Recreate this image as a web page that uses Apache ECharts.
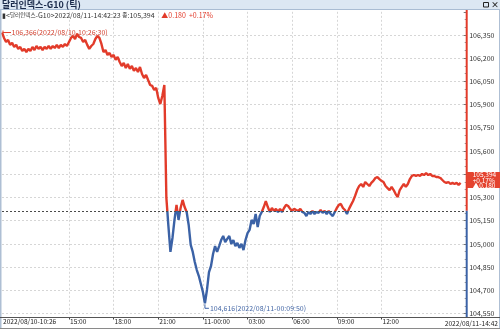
<!DOCTYPE html>
<html><head><meta charset="utf-8">
<script src="https://cdn.jsdelivr.net/npm/echarts@6/dist/echarts.min.js"></script>
<style>html,body{margin:0;padding:0;background:#fff;overflow:hidden}#c{width:500px;height:329px}</style>
</head><body><div id="c"></div>
<script>
// ---- data (tick chart, ~2px per sample) ----
const segLabels = ['2022/08/10-10:26','15:00','18:00','21:00','11-00:00','03:00','06:00','09:00','12:00'];
const endLabel = '2022/08/11-14:42';
const seg1 = [106.366,106.331,106.305,106.318,106.286,106.299,106.273,106.286,106.260,106.273,106.247,106.260,106.240,106.260,106.247,106.273,106.253,106.279,106.260,106.273,106.253,106.273,106.260,106.279,106.260,106.279,106.266,106.286,106.266,106.286,106.273,106.292,106.279];
const seg2 = [106.305,106.331,106.344,106.324,106.357,106.337,106.331,106.305,106.318,106.286,106.260,106.279,106.292,106.324,106.344,106.331,106.292,106.240,106.253,106.221,106.234,106.208];
const seg3 = [106.221,106.189,106.208,106.176,106.150,106.169,106.137,106.163,106.131,106.150,106.118,106.137,106.111,106.143,106.098,106.072,106.092,106.059,106.027,106.021,105.995,106.008];
const seg4 = [105.943,105.904,105.956,106.027,105.297,105.116,104.948,105.038,105.155,105.252,105.155,105.232,105.284,105.238,105.206,105.122,104.993,104.948,104.883,104.831,104.792,104.741];
const seg5 = [104.689,104.616,104.702,104.818,104.857,104.935,104.986,104.948,104.986,105.025,105.051,105.012,105.032,105.051,105.000,105.025,104.986,105.006,104.974,105.000,104.960,105.025];
const seg6 = [105.070,105.090,105.155,105.129,105.193,105.109,105.180,105.206,105.238,105.277,105.238,105.206,105.232,105.213,105.226,105.206,105.226,105.206,105.232,105.252,105.245,105.226];
const seg7 = [105.213,105.226,105.219,105.213,105.226,105.206,105.200,105.180,105.206,105.193,105.213,105.193,105.206,105.200,105.219,105.200,105.213,105.193,105.213,105.193,105.180,105.206];
const seg8 = [105.232,105.252,105.258,105.232,105.219,105.193,105.226,105.252,105.277,105.310,105.348,105.374,105.387,105.368,105.400,105.387,105.374,105.394,105.407,105.426,105.432,105.419];
const seg9 = [105.407,105.400,105.374,105.361,105.348,105.368,105.348,105.322,105.303,105.348,105.368,105.387,105.368,105.387,105.419,105.439,105.445,105.439,105.445,105.439,105.452,105.445,105.458,105.445,105.452,105.439,105.439,105.432,105.432,105.426,105.413,105.400,105.394,105.400,105.387,105.394,105.387,105.394,105.381,105.394];
const prevClose = 105.214;
const lastPrice = 105.394;
const changeText = '▲0.180';
const changePctText = '+0.17%';
const lastTime = '2022/08/11-14:42:23';
const maxTime = '2022/08/10-10:26:30';
const minTime = '2022/08/11-00:09:50';
const yMin = 104.55, yMax = 106.50, yStep = 0.15;
const padCount = 3;

// ---- build ----
const segments = [seg1,seg2,seg3,seg4,seg5,seg6,seg7,seg8,seg9];
const values = []; const labelAt = {};
segments.forEach((s,k)=>{ labelAt[values.length] = segLabels[k]; s.forEach(v=>values.push(v)); });
const cats = [];
for (let i=0;i<values.length+padCount;i++) cats.push(String(i));
const fmt = v => v.toFixed(3).replace('.', ',');
const maxV = Math.max(...values), minV = Math.min(...values);
const maxI = values.indexOf(maxV), minI = values.indexOf(minV);
const lastI = values.length-1;

const RED = '#e23b2a', BLUE = '#3b62a6';
const NARROW = "'Liberation Sans Narrow','Arial Narrow','Noto Sans CJK KR',sans-serif";
const KR = "'Noto Sans CJK KR','Liberation Sans Narrow',sans-serif";

const chart = echarts.init(document.getElementById('c'), null, {renderer:'canvas'});
const showIdx = (i) => labelAt[i] !== undefined;
chart.setOption({
  animation:false,
  backgroundColor:'#fff',
  textStyle:{fontFamily:NARROW},
  grid:{left:2, right:33.3, top:11.8, bottom:15.5, outerBoundsMode:'none'},
  xAxis:{
    type:'category', data:cats, boundaryGap:false, offset:4,
    axisLine:{show:false},
    axisTick:{show:true, length:2, interval:(i)=>showIdx(i)&&i>0, lineStyle:{color:'#444'}},
    axisLabel:{show:true, interval:(i)=>showIdx(i), formatter:(v,i)=>labelAt[i]||'', align:'left', margin:1, padding:[0,0,0,1], fontSize:6.6, color:'#222', fontFamily:NARROW},
    splitLine:{show:true, interval:(i)=>showIdx(i)&&i>0, lineStyle:{color:'#d6d6d6', type:[2,2], width:1}}
  },
  yAxis:{
    type:'value', position:'right', min:yMin, max:yMax, interval:yStep,
    axisLine:{show:false},
    axisTick:{show:true, inside:true, length:3, lineStyle:{color:'#777'}},
    minorTick:{show:true, splitNumber:3, length:2, lineStyle:{color:'#999'}},
    axisLabel:{formatter:fmt, fontSize:7, color:'#333', margin:2.5, showMaxLabel:false, fontFamily:NARROW},
    splitLine:{show:true, showMaxLine:false, showMinLine:true, lineStyle:{color:'#d6d6d6', type:[2,2], width:1}}
  },
  series:[{
    type:'line', data:values, symbol:'none', showSymbol:false,
    lineStyle:{width:2.4, color:RED},
    markLine:{silent:true, symbol:'none', label:{show:false},
      lineStyle:{color:'#4a4a4a', type:[2,2], width:1},
      data:[{yAxis:prevClose}]}
  }]
});

const P = (i,v) => chart.convertToPixel({seriesIndex:0}, [i, v]);
const refY = P(0, prevClose)[1];
const axX = P(cats.length-1, yMin)[0];
const pMax = P(maxI, maxV), pMin = P(minI, minV), pLast = P(lastI, lastPrice);
const H = 329, off = refY / H;

chart.setOption({
  series:[{lineStyle:{color:{type:'linear', x:0, y:0, x2:0, y2:H, global:true,
    colorStops:[{offset:0,color:RED},{offset:off,color:RED},{offset:off,color:BLUE},{offset:1,color:BLUE}]}}}],
  graphic:[
  {type:'rect', shape:{x:0,y:0,width:500,height:9.5}, style:{fill:'#dce7f3'}, z:50},
  {type:'line', shape:{x1:0,y1:9.5,x2:500,y2:9.5}, style:{stroke:'#a9bcd3', lineWidth:1}, z:50},
  {type:'text', x:2, y:5, style:{text:'달러인덱스-G10 (틱)', font:"bold 9px "+KR, fill:'#1b2b4b', verticalAlign:'middle'}, z:51},
  {type:'rect', shape:{x:483.5,y:2.5,width:5,height:4.5}, style:{fill:'none', stroke:'#222', lineWidth:1}, z:51},
  {type:'text', x:491, y:5, style:{text:'×', font:"bold 8px "+NARROW, fill:'#222', verticalAlign:'middle'}, z:51},
  {type:'text', x:2, y:15, z:51, style:{
    text:'{a|▮<}{k|달러인덱스}{a|-G10>' + lastTime + ' }{k|종}{a|:' + fmt(lastPrice) + '}  {r|' + changeText + '  ' + changePctText + '}',
    verticalAlign:'middle',
    rich:{a:{font:"7px "+NARROW, fill:'#333'}, k:{font:"5.6px "+KR, fill:'#333'}, r:{font:"7px "+NARROW, fill:RED}}
  }},
  {type:'line', shape:{x1:0.75,y1:9,x2:0.75,y2:329}, style:{stroke:'#aebfd4', lineWidth:1.5}, z:50},
  {type:'line', shape:{x1:499.5,y1:9,x2:499.5,y2:329}, style:{stroke:'#aebfd4', lineWidth:1}, z:50},
  {type:'line', shape:{x1:0,y1:317.5,x2:500,y2:317.5}, style:{stroke:'#555', lineWidth:1}, z:50},
  {type:'line', shape:{x1:0,y1:328.5,x2:500,y2:328.5}, style:{stroke:'#8a8a8a', lineWidth:1}, z:50},
  {type:'line', shape:{x1:axX,y1:10,x2:axX,y2:refY}, style:{stroke:RED, lineWidth:2}, z:50},
  {type:'line', shape:{x1:axX,y1:refY,x2:axX,y2:317}, style:{stroke:BLUE, lineWidth:2}, z:50},
  {type:'polyline', shape:{points:[[pMax[0]+1,pMax[1]-2],[pMax[0]+1,pMax[1]],[pMax[0]+9,pMax[1]]]}, style:{stroke:RED, lineWidth:1, fill:'none'}, z:52},
  {type:'text', x:pMax[0]+9.5, y:pMax[1], z:52, style:{text:fmt(maxV)+'('+maxTime+')', font:"7px "+NARROW, fill:'#d2402f', verticalAlign:'middle'}},
  {type:'polyline', shape:{points:[[pMin[0],pMin[1]+1],[pMin[0],pMin[1]+5],[pMin[0]+4,pMin[1]+5]]}, style:{stroke:BLUE, lineWidth:1, fill:'none'}, z:52},
  {type:'text', x:pMin[0]+5, y:pMin[1]+5, z:52, style:{text:fmt(minV)+'('+minTime+')', font:"7px "+NARROW, fill:'#4467a6', verticalAlign:'middle'}},
  {type:'rect', shape:{x:axX,y:pLast[1]-11,width:500-axX,height:16}, style:{fill:'#e4432f'}, z:60},
  {type:'text', x:axX+6, y:pLast[1]-10.5, z:61, style:{text:fmt(lastPrice)+'\n'+changePctText+'\n'+changeText, font:"6.5px "+NARROW, lineHeight:5.2, fill:'#fff', verticalAlign:'top'}},
  {type:'text', x:498, y:323, z:52, style:{text:endLabel, font:"6.6px "+NARROW, fill:'#222', align:'right', verticalAlign:'middle'}}
]});
</script></body></html>
